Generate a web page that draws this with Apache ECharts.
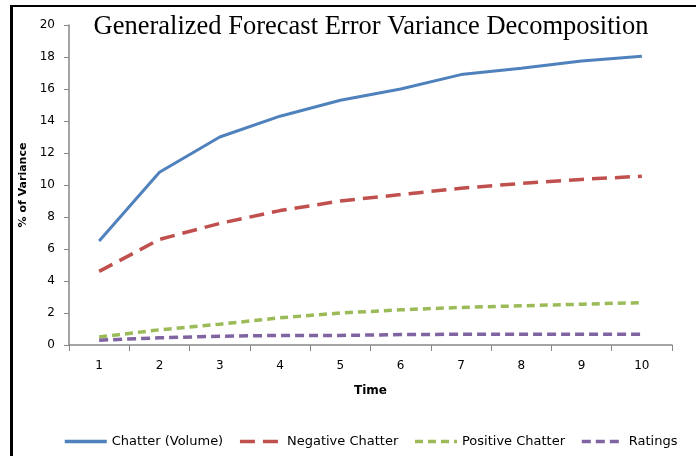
<!DOCTYPE html>
<html>
<head>
<meta charset="utf-8">
<script src="https://cdn.jsdelivr.net/npm/echarts@6/dist/echarts.min.js"></script>
<style>
    html, body { margin: 0; padding: 0; background: #fff; }
    #frame {
        position: absolute; left: 10px; top: 5px; width: 700px; height: 460px;
        border-top: 2px solid #000; border-left: 3px solid #000;
    }
    #main { position: absolute; left: 0; top: 0; width: 696px; height: 456px; }
</style>
</head>
<body>
<div id="frame"></div>
<div id="main"></div>
<script>
    // 时间 1..10
    var timeLabels = ['1', '2', '3', '4', '5', '6', '7', '8', '9', '10'];
    var chatterVolume = [6.5, 10.8, 13.0, 14.3, 15.3, 16.0, 16.9, 17.3, 17.75, 18.05];
    var negativeChatter = [4.6, 6.6, 7.6, 8.4, 9.0, 9.4, 9.8, 10.1, 10.35, 10.55];
    var positiveChatter = [0.5, 0.95, 1.3, 1.7, 2.0, 2.2, 2.35, 2.45, 2.55, 2.65];
    var ratings = [0.3, 0.45, 0.55, 0.6, 0.6, 0.65, 0.67, 0.67, 0.67, 0.67];
    var yTicks = [0, 2, 4, 6, 8, 10, 12, 14, 16, 18, 20];

    var sansFont = '"DejaVu Sans", Verdana, sans-serif';
    var axisGray = '#868686';

    var myChart = echarts.init(document.getElementById('main'));
    var option = {
        animation: false,
        title: {
            text: 'Generalized Forecast Error Variance Decomposition',
            left: 366,
            textAlign: 'center',
            top: 9,
            textStyle: {
                fontFamily: '"Liberation Serif", "DejaVu Serif", serif',
                fontSize: 26.5,
                fontWeight: 'normal',
                color: '#000'
            }
        },
        grid: {
            left: 69,
            right: 24,
            top: 25,
            bottom: 111
        },
        legend: {
            bottom: 3,
            left: 58,
            width: 636,
            itemWidth: 42,
            itemHeight: 10,
            itemGap: 15,
            itemStyle: { opacity: 0 },
            lineStyle: { width: 3.5 },
            textStyle: { fontFamily: sansFont, fontSize: 13, color: '#000' },
            data: ['Chatter (Volume)', 'Negative Chatter', 'Positive Chatter', 'Ratings']
        },
        xAxis: {
            type: 'category',
            data: timeLabels,
            boundaryGap: true,
            name: 'Time',
            nameLocation: 'middle',
            nameGap: 40,
            nameTextStyle: { fontFamily: sansFont, fontSize: 12, fontWeight: 'bold', color: '#000' },
            axisLine: { lineStyle: { color: axisGray, width: 1.5 } },
            axisTick: { show: true, length: 6, lineStyle: { color: axisGray } },
            axisLabel: { fontFamily: sansFont, fontSize: 12, color: '#000', margin: 15 }
        },
        yAxis: {
            type: 'value',
            min: yTicks[0],
            max: yTicks[yTicks.length - 1],
            interval: 2,
            name: '% of Variance',
            nameLocation: 'middle',
            nameGap: 40,
            nameTextStyle: { fontFamily: sansFont, fontSize: 11, fontWeight: 'bold', color: '#000' },
            axisLine: { show: true, lineStyle: { color: axisGray, width: 1.5 } },
            axisTick: { show: true, length: 5, lineStyle: { color: axisGray } },
            axisLabel: { fontFamily: sansFont, fontSize: 12, color: '#000', margin: 14 },
            splitLine: { show: false }
        },
        series: [
            {
                name: 'Chatter (Volume)',
                type: 'line',
                data: chatterVolume,
                symbol: 'none',
                color: '#4F81BD',
                lineStyle: { width: 3, color: '#4F81BD' }
            },
            {
                name: 'Negative Chatter',
                type: 'line',
                data: negativeChatter,
                symbol: 'none',
                color: '#C0504D',
                lineStyle: { width: 3.5, color: '#C0504D', type: [15, 8] }
            },
            {
                name: 'Positive Chatter',
                type: 'line',
                data: positiveChatter,
                symbol: 'none',
                color: '#9BBB59',
                lineStyle: { width: 3.5, color: '#9BBB59', type: [8, 5] }
            },
            {
                name: 'Ratings',
                type: 'line',
                data: ratings,
                symbol: 'none',
                color: '#8064A2',
                lineStyle: { width: 3.5, color: '#8064A2', type: [9, 5] }
            }
        ]
    };
    myChart.setOption(option, true);
</script>
</body>
</html>
